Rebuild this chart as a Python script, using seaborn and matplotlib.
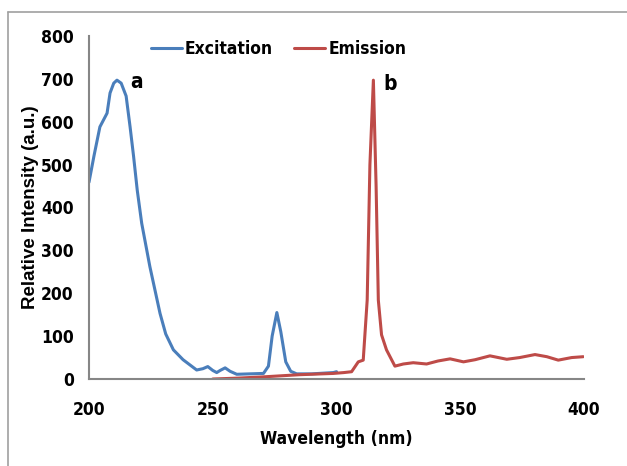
import matplotlib
matplotlib.use('Agg')

import matplotlib.pyplot as plt
import seaborn as sns
import pandas as pd
from matplotlib.lines import Line2D

exc_wl = [200, 202, 204.4, 207.3, 208.5, 210, 211.3, 213, 215, 216.6, 218, 219.5,
          221.3, 224.6, 228.7, 231, 234.1, 238, 243.5, 246, 248, 250, 251.6, 253,
          255, 257, 259.7, 265, 270.5, 272.5, 274, 275.9, 277.5, 279.5, 281.5,
          283.9, 290, 298.7, 300]
exc_int = [459, 520, 588, 620, 667, 690, 697, 690, 660, 588, 520, 440,
           363, 262, 153, 105, 68, 45, 21, 24, 29, 20, 15, 20,
           26, 18, 11, 12, 13, 30, 100, 155, 110, 40, 18,
           12, 12, 15, 17]

em_wl = [250, 260, 270.5, 285, 298.7, 303, 306.1, 308.8, 310.8, 312.4, 313.5,
         314.9, 316, 316.9, 318.2, 320.2, 323.6, 327, 331, 336.4, 341, 345.9,
         351.3, 356, 362, 368.8, 374, 380.2, 385, 389.6, 395, 399.7]
em_int = [0, 2, 5, 10, 13, 15, 17, 40, 44, 184, 500,
          697, 450, 184, 103, 68, 30, 35, 38, 35, 42, 47,
          40, 45, 54, 46, 50, 57, 52, 44, 50, 52]

exc = pd.DataFrame({"wl": exc_wl, "val": exc_int, "series": "Excitation"})
em = pd.DataFrame({"wl": em_wl, "val": em_int, "series": "Emission"})
data = pd.concat([exc, em], ignore_index=True)

sns.set_style("white")
plt.rcParams['font.family'] = ['DejaVu Sans']
plt.rcParams['text.color'] = 'black'
plt.rcParams['xtick.labelcolor'] = 'black'
plt.rcParams['ytick.labelcolor'] = 'black'
plt.rcParams['axes.labelcolor'] = 'black'

fig = plt.figure(figsize=(6.27, 4.66), dpi=100)
ax = fig.add_axes([89 / 627, 1 - 379 / 466, 495 / 627, 343 / 466])

sns.lineplot(data=data, x="wl", y="val", hue="series",
             palette={"Excitation": "#4a7ebb", "Emission": "#be4b48"},
             linewidth=2.2, ax=ax, sort=False, estimator=None)

ax.set_xlim(200, 400)
ax.set_ylim(0, 800)
ax.set_xticks([200, 250, 300, 350, 400])
ax.set_yticks(range(0, 801, 100))

for s in ["top", "right"]:
    ax.spines[s].set_visible(False)
for s in ["left", "bottom"]:
    ax.spines[s].set_color("#868686")
    ax.spines[s].set_linewidth(1.5)
ax.tick_params(axis="both", direction="out", length=5, width=1.2,
               color="#868686", labelsize=12.5, pad=6)
for lbl in ax.get_xticklabels() + ax.get_yticklabels():
    lbl.set_fontweight("bold")
    lbl.set_fontstretch("condensed")
ax.tick_params(axis="x", pad=11)

ax.set_xlabel("Wavelength (nm)", fontsize=12.5, fontweight="bold",
              fontstretch="condensed", labelpad=8)
ax.set_ylabel("Relative Intensity (a.u.)", fontsize=13.5, fontweight="bold",
              family="Liberation Sans")
ax.yaxis.set_label_coords(-0.1, 0.5)

ax.text(216.5, 679, "a", fontsize=15, fontweight="bold", fontstretch="condensed")
ax.text(319, 674, "b", fontsize=15, fontweight="bold", fontstretch="condensed")

leg = ax.legend(loc="upper center", bbox_to_anchor=(0.383, 1.035), ncol=2,
                frameon=False, fontsize=12.5, columnspacing=1.2,
                handlelength=1.8, handletextpad=0.17)
for t in leg.get_texts():
    t.set_fontweight("bold")
    t.set_fontstretch("condensed")

x0 = 8 / 627
y0 = 1 - 12 / 466
fig.lines.append(Line2D([x0, x0], [0, y0], transform=fig.transFigure,
                        color="#a0a0a0", linewidth=1.2))
fig.lines.append(Line2D([x0, 1], [y0, y0], transform=fig.transFigure,
                        color="#a0a0a0", linewidth=1.2))

fig.savefig("out.png", dpi=100)
plt.close()
